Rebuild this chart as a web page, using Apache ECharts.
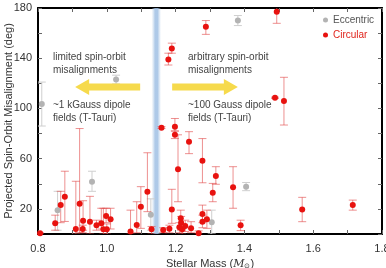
<!DOCTYPE html>
<html>
<head>
<meta charset="utf-8">
<script src="https://cdn.jsdelivr.net/npm/echarts@6/dist/echarts.min.js"></script>
<style>html,body{margin:0;padding:0;background:#fff}#c{width:386px;height:268px}</style>
</head>
<body>
<div id="c"></div>
<script>
// Circular systems: mass, projected obliquity, error low, error high
const circMass = [0.806,0.850,0.866,0.878,0.910,0.921,0.931,0.930,0.951,0.970,0.984,0.990,1.000,0.998,1.011,1.069,1.087,1.099,1.118,1.130,1.164,1.182,1.189,1.207,1.215,1.216,1.211,1.219,1.228,1.239,1.245,1.267,1.278,1.278,1.278,1.291,1.308,1.317,1.367,1.389,1.159,1.198,1.198,1.179,1.189,1.288,1.494,1.489,1.515,1.568,1.715];
const circDeg  = [0.5,8.5,23,29.7,4,24,10.6,4,9.8,7,8.5,3.7,3.7,14.3,11.7,1.9,7.2,21.8,33.7,3.7,3.2,4.2,19.6,51.5,12.5,9,5.3,3.7,6.4,73.5,4.5,0.5,58.4,16,9.8,11.7,32.9,46.2,37.2,6.9,84.6,85.4,79,139,147.8,165,177,108.5,105.9,19.6,23];
const circLo   = [0,3,9,10,0,1,3,1,0,3,4,0,0,9,4,0,1,4.5,17.8,0,1,1,8.5,25.7,6,3,1,0,2,64,1,0,40.8,9,5,4.5,25.7,39.6,20.5,2.7,84,82,76,134.6,144,159,167.8,108,86.8,9.8,19];
const circHi   = [1,15,34,50,42,84,26.5,7,30,11,20.5,20.5,8,20.5,20.5,19,25.7,37.7,64.7,6,5,7,35.6,79,19,14,9,8,11,81.5,9.8,2.5,76,23,15,19,40.3,53.6,53.6,11,85.5,92,82,144,152,170,185,109,124.8,29.2,27];
// Eccentric systems
const eccMass = [0.811,1.027,0.857,0.957,1.128,1.305,1.405,1.381];
const eccDeg  = [103.5,123,19,41.6,15.4,9.3,37.7,170];
const eccLo   = [86,119.5,3,34,3,0,34.5,166];
const eccHi   = [121,126.5,34,50,28,19,41,174];
// Kraft-break band and annotations
const bandMass = [1.131,1.157];
const arrowDeg = 117;
const arrowLeft = [1.097,0.908];
const arrowRight = [1.19,1.381];
const noteLeftMass = 0.8436, noteRightMass = 1.236;
const noteTopDeg = 135.7, noteBotDeg = 97.5;
const notes = [
  [noteLeftMass, noteTopDeg, 'limited spin-orbit\nmisalignments'],
  [noteLeftMass, noteBotDeg, '~1 kGauss dipole\nfields (T-Tauri)'],
  [noteRightMass, noteTopDeg, 'arbitrary spin-orbit\nmisalignments'],
  [noteRightMass, noteBotDeg, '~100 Gauss dipole\nfields (T-Tauri)']
];

const FONT = 'Liberation Sans';
const RED = '#e8120f', GREY = '#b3b3b3';

function errSeries(mass, lo, hi, color, z){
  return {
    type:'custom', z:z, silent:true, clip:true,
    data: mass.map((m,i)=>[m, lo[i], hi[i]]),
    renderItem:function(p, api){
      const a = api.coord([api.value(0), api.value(1)]);
      const b = api.coord([api.value(0), api.value(2)]);
      const hw = 4;
      const st = {stroke:color, lineWidth:1};
      return {type:'group', children:[
        {type:'line', shape:{x1:a[0],y1:a[1],x2:b[0],y2:b[1]}, style:st},
        {type:'line', shape:{x1:a[0]-hw,y1:a[1],x2:a[0]+hw,y2:a[1]}, style:st},
        {type:'line', shape:{x1:b[0]-hw,y1:b[1],x2:b[0]+hw,y2:b[1]}, style:st}
      ]};
    }
  };
}

function arrowSeries(from, to){
  return {
    type:'custom', z:5, silent:true,
    data:[[from, to, arrowDeg]],
    renderItem:function(p, api){
      const s = api.coord([api.value(0), api.value(2)]);
      const e = api.coord([api.value(1), api.value(2)]);
      const dir = e[0] > s[0] ? 1 : -1;
      const sh = 3.5, hh = 8, hl = 14;
      const bx = e[0] - dir*hl;
      const y = s[1];
      return {type:'polygon', shape:{points:[
        [s[0], y-sh],[bx, y-sh],[bx, y-hh],[e[0], y],[bx, y+hh],[bx, y+sh],[s[0], y+sh]
      ]}, style:{fill:'#f6da4c'}};
    }
  };
}

const tickLbl = (v)=> (Math.round(v*10)%2===0 ? v.toFixed(1) : '');
const yLbl = (v)=> ((Math.round(v)-20)%40===0 ? String(Math.round(v)) : '');

const chart = echarts.init(document.getElementById('c'), null, {renderer:'canvas'});
const axLine = {show:true, onZero:false, lineStyle:{color:'#000', width:2}};
const axTick = {show:true, inside:true, length:4, lineStyle:{color:'#666', width:1}};
chart.setOption({
  animation:false,
  textStyle:{fontFamily:FONT},
  grid:{left:38, right:4, top:8, bottom:34, containLabel:false, outerBoundsMode:'none'},
  legend:{
    orient:'vertical', left:318, top:10, itemWidth:5, itemHeight:5, itemGap:5,
    icon:'circle', textStyle:{fontSize:10, fontFamily:FONT},
    data:[{name:'Eccentric', textStyle:{color:'#555'}},{name:'Circular', textStyle:{color:'#e0241c'}}]
  },
  xAxis:[{
    type:'value', min:0.8, max:1.8, interval:0.1, position:'bottom',
    axisLine:axLine, axisTick:axTick, splitLine:{show:false},
    axisLabel:{formatter:tickLbl, color:'#333', fontSize:11, margin:9, fontFamily:FONT},
    name:'{n|Stellar Mass (}{i|M}{s|⊙}{n|)}', nameLocation:'middle', nameGap:23,
    nameTextStyle:{rich:{n:{fontSize:11, color:'#333', fontFamily:FONT}, i:{fontSize:11, color:'#333', fontStyle:'italic', fontFamily:'DejaVu Serif'}, s:{fontSize:7, color:'#333', verticalAlign:'bottom', padding:[4,0,0,0]}}}
  },{
    type:'value', min:0.8, max:1.8, interval:0.1, position:'top',
    axisLine:axLine, axisTick:axTick, splitLine:{show:false}, axisLabel:{show:false}
  }],
  yAxis:[{
    type:'value', min:0, max:180, interval:20, position:'left',
    axisLine:axLine, axisTick:axTick, splitLine:{show:false},
    axisLabel:{formatter:yLbl, color:'#333', fontSize:11, margin:6, fontFamily:FONT},
    name:'Projected Spin-Orbit Misalignment (deg)', nameLocation:'middle', nameGap:24, nameMoveOverlap:false,
    nameTextStyle:{fontSize:11, color:'#333', fontFamily:FONT}
  },{
    type:'value', min:0, max:180, interval:20, position:'right',
    axisLine:axLine, axisTick:axTick, splitLine:{show:false}, axisLabel:{show:false}
  }],
  series:[
    {
      type:'scatter', name:'band', data:[], z:1, silent:true,
      markArea:{silent:true, itemStyle:{color:{type:'linear',x:0,y:0,x2:1,y2:0,colorStops:[
        {offset:0,color:'rgba(190,212,235,0.1)'},{offset:0.35,color:'rgba(160,192,228,0.85)'},
        {offset:0.65,color:'rgba(160,192,228,0.85)'},{offset:1,color:'rgba(190,212,235,0.1)'}]}},
        data:[[{xAxis:bandMass[0], yAxis:0},{xAxis:bandMass[1], yAxis:180}]]}
    },
    arrowSeries(arrowLeft[0], arrowLeft[1]),
    arrowSeries(arrowRight[0], arrowRight[1]),
    {
      type:'custom', name:'notes', z:6, silent:true,
      data:notes.map(n=>[n[0], n[1], n[2]]),
      renderItem:function(p, api){
        const pt = api.coord([api.value(0), api.value(1)]);
        return {type:'text', x:pt[0], y:pt[1], style:{text:notes[p.dataIndex][2], textAlign:'left', textVerticalAlign:'middle', fontSize:10, lineHeight:13, fill:'#444', fontFamily:FONT}};
      }
    },
    errSeries(eccMass, eccLo, eccHi, '#cfcfcf', 2),
    errSeries(circMass, circLo, circHi, 'rgba(225,70,70,0.6)', 3),
    {type:'scatter', name:'Eccentric', symbolSize:6, z:4, itemStyle:{color:GREY, opacity:1},
      data:eccMass.map((m,i)=>[m, eccDeg[i]])},
    {type:'scatter', name:'Circular', symbolSize:6, z:4, itemStyle:{color:RED, opacity:1},
      data:circMass.map((m,i)=>[m, circDeg[i]])}
  ]
});
</script>
</body>
</html>
